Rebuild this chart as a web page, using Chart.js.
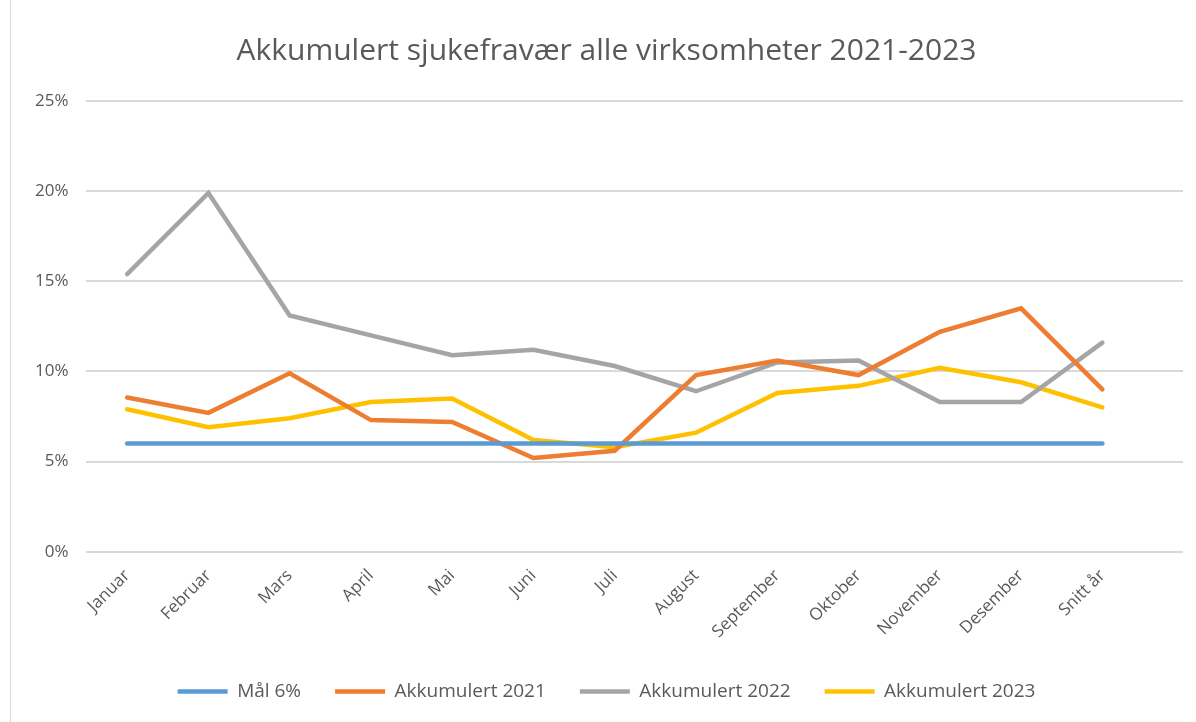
<!DOCTYPE html>
<html>
<head>
<meta charset="utf-8">
<script src="https://cdn.jsdelivr.net/npm/chart.js@4.4.1/dist/chart.umd.min.js"></script>
<style>
  html, body { margin: 0; padding: 0; background: #fff; }
  #wrap { position: relative; width: 1196px; height: 722px; }
  #frame { position: absolute; left: 10px; top: 0; width: 1px; height: 722px; background: #d9d9d9; }
</style>
</head>
<body>
<div id="wrap">
  <div id="frame"></div>
  <canvas id="chart" width="1196" height="722"></canvas>
</div>
<script>
const months = ["Januar", "Februar", "Mars", "April", "Mai", "Juni", "Juli", "August",
  "September", "Oktober", "November", "Desember", "Snitt år"];
const goal = [6, 6, 6, 6, 6, 6, 6, 6, 6, 6, 6, 6, 6];
const acc2021 = [8.55, 7.7, 9.9, 7.3, 7.2, 5.2, 5.6, 9.8, 10.6, 9.8, 12.2, 13.5, 9.0];
const acc2022 = [15.4, 19.9, 13.1, 12.0, 10.9, 11.2, 10.3, 8.9, 10.5, 10.6, 8.3, 8.3, 11.6];
const acc2023 = [7.9, 6.9, 7.4, 8.3, 8.5, 6.2, 5.8, 6.6, 8.8, 9.2, 10.2, 9.4, 8.0];
const yTicks = [0, 5, 10, 15, 20, 25];

const textColor = "#595959";
const gridColor = "#d9d9d9";
const font = "'Open Sans', sans-serif";

// Excel lets the horizontal gridlines run a bit past the last category
const extendGrid = {
  id: "extendGrid",
  beforeDatasetsDraw(chart) {
    const { ctx, chartArea, scales } = chart;
    ctx.save();
    ctx.strokeStyle = gridColor;
    ctx.lineWidth = 2;
    yTicks.forEach(v => {
      const y = Math.round(scales.y.getPixelForValue(v));
      ctx.beginPath();
      ctx.moveTo(chartArea.right, y);
      ctx.lineTo(chartArea.right + 40, y);
      ctx.stroke();
    });
    ctx.restore();
  }
};

function line(label, data, color) {
  return {
    label, data,
    borderColor: color,
    backgroundColor: color,
    borderWidth: 4.5,
    pointRadius: 0,
    pointStyle: "line",
    borderCapStyle: "round",
    borderJoinStyle: "miter",
    tension: 0
  };
}

new Chart(document.getElementById("chart"), {
  type: "line",
  data: {
    labels: months,
    datasets: [
      line("Mål 6%", goal, "#5b9bd5"),
      line("Akkumulert 2021", acc2021, "#ed7d31"),
      line("Akkumulert 2022", acc2022, "#a5a5a5"),
      line("Akkumulert 2023", acc2023, "#ffc000")
    ]
  },
  options: {
    responsive: false,
    animation: false,
    layout: { padding: { left: 17, right: 0, top: 31, bottom: 11 } },
    plugins: {
      title: {
        display: true,
        text: "Akkumulert sjukefravær alle virksomheter 2021-2023",
        color: textColor,
        font: { family: font, size: 30, weight: "normal" },
        padding: { top: 2, bottom: 32 }
      },
      legend: {
        position: "bottom",
        labels: {
          color: textColor,
          font: { family: font, size: 19 },
          usePointStyle: true,
          pointStyleWidth: 50,
          boxHeight: 6,
          padding: 34
        }
      },
      tooltip: { enabled: false }
    },
    scales: {
      x: {
        offset: true,
        grid: { display: false },
        border: { display: false },
        ticks: {
          color: textColor,
          font: { family: font, size: 17 },
          minRotation: 45,
          maxRotation: 45,
          padding: 6
        }
      },
      y: {
        min: 0,
        max: 25,
        afterBuildTicks(axis) { axis.ticks = yTicks.map(v => ({ value: v })); },
        grid: { color: gridColor, lineWidth: 2, drawTicks: false },
        border: { display: false },
        ticks: {
          color: textColor,
          font: { family: font, size: 17 },
          padding: 18,
          callback: v => v + "%"
        }
      },
      // empty spacer on the right so the title and legend stay centred on the whole page
      spacer: {
        type: "linear",
        position: "right",
        grid: { display: false },
        border: { display: false },
        ticks: { display: false },
        afterFit(axis) { axis.width = 53; }
      }
    }
  },
  plugins: [extendGrid]
});
</script>
</body>
</html>
